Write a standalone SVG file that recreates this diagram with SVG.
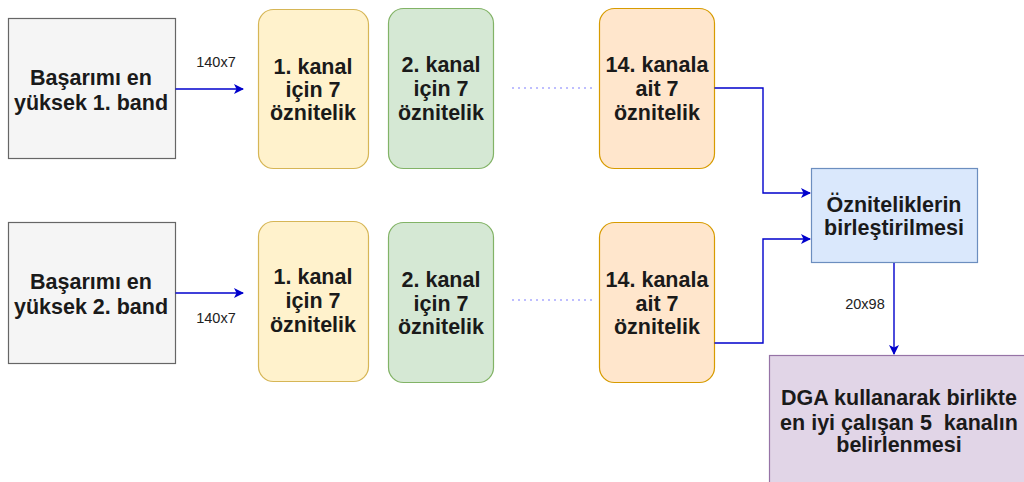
<svg xmlns="http://www.w3.org/2000/svg" width="1024" height="482" viewBox="0 0 1024 482">
<defs>
<style>
.t{font-family:"Liberation Sans",Arial,sans-serif;font-weight:bold;font-size:21.5px;fill:#1a1a1a;text-anchor:middle;white-space:pre}
.l{font-family:"Liberation Sans",Arial,sans-serif;font-size:14.5px;fill:#222;text-anchor:middle}
.gray{fill:#f5f5f5;stroke:#666666;stroke-width:1.2}
.yel{fill:#fff2cc;stroke:#d6b656;stroke-width:1.2}
.grn{fill:#d5e8d4;stroke:#82b366;stroke-width:1.2}
.org{fill:#ffe6cc;stroke:#d79b00;stroke-width:1.2}
.blu{fill:#dae8fc;stroke:#6c8ebf;stroke-width:1.2}
.pur{fill:#e1d5e7;stroke:#9673a6;stroke-width:1.2}
.c{fill:none;stroke:#0000cc;stroke-width:1.4}
.d{fill:none;stroke:#7f7fff;stroke-width:1.2;stroke-dasharray:2 4}
</style>
<marker id="ah" markerWidth="10" markerHeight="10" refX="9" refY="5" orient="auto" markerUnits="userSpaceOnUse">
<path d="M0,0 L10,5 L0,10 L2.5,5 Z" fill="#0000cc"/>
</marker>
</defs>
<rect width="1024" height="482" fill="#ffffff"/>

<g id="band1"><rect class="gray" x="8.5" y="18.5" width="167" height="140"/>
<text class="t" x="91" y="85">Başarımı en</text><text class="t" x="91" y="110">yüksek 1. band</text></g>
<g id="band2"><rect class="gray" x="8.5" y="222.5" width="167" height="141"/>
<text class="t" x="91" y="289">Başarımı en</text><text class="t" x="91" y="314">yüksek 2. band</text></g>

<g id="k1a"><rect class="yel" x="258.5" y="9.5" width="110" height="159" rx="15"/>
<text class="t" x="313" y="74">1. kanal</text><text class="t" x="313" y="97">için 7</text><text class="t" x="313" y="120">öznitelik</text></g>
<g id="k2a"><rect class="grn" x="388.5" y="8.5" width="105" height="160" rx="15"/>
<text class="t" x="441" y="72">2. kanal</text><text class="t" x="441" y="96">için 7</text><text class="t" x="441" y="120">öznitelik</text></g>
<g id="k14a"><rect class="org" x="599.5" y="8.5" width="115" height="160" rx="15"/>
<text class="t" x="657" y="72">14. kanala</text><text class="t" x="657" y="96">ait 7</text><text class="t" x="657" y="120">öznitelik</text></g>

<g id="k1b"><rect class="yel" x="258.5" y="221.5" width="110" height="160" rx="15"/>
<text class="t" x="313" y="284">1. kanal</text><text class="t" x="313" y="308">için 7</text><text class="t" x="313" y="332">öznitelik</text></g>
<g id="k2b"><rect class="grn" x="388.5" y="222.5" width="105" height="160" rx="15"/>
<text class="t" x="441" y="287">2. kanal</text><text class="t" x="441" y="311">için 7</text><text class="t" x="441" y="334">öznitelik</text></g>
<g id="k14b"><rect class="org" x="599.5" y="222.5" width="115" height="160" rx="15"/>
<text class="t" x="657" y="287">14. kanala</text><text class="t" x="657" y="311">ait 7</text><text class="t" x="657" y="334">öznitelik</text></g>

<g id="merge"><rect class="blu" x="811.5" y="168.5" width="166" height="94"/>
<text class="t" x="894" y="212">Özniteliklerin</text><text class="t" x="894" y="235">birleştirilmesi</text></g>

<g id="dga"><rect class="pur" x="769.5" y="355.5" width="262" height="140"/>
<text class="t" x="899" y="405">DGA kullanarak birlikte</text><text class="t" x="899" y="430" xml:space="preserve">en iyi çalışan 5  kanalın</text><text class="t" x="899" y="452">belirlenmesi</text></g>

<g id="connectors">
<line class="c" x1="175.5" y1="89" x2="243" y2="89" marker-end="url(#ah)"/>
<line class="c" x1="175.5" y1="293" x2="243" y2="293" marker-end="url(#ah)"/>
<line class="d" x1="512" y1="88" x2="593" y2="88"/>
<line class="d" x1="512" y1="300" x2="593" y2="300"/>
<polyline class="c" points="714.5,88 763,88 763,193 810,193" marker-end="url(#ah)"/>
<polyline class="c" points="714.5,343 763,343 763,239 810,239" marker-end="url(#ah)"/>
<line class="c" x1="894" y1="263" x2="894" y2="354" marker-end="url(#ah)"/>
<text class="l" x="216" y="67">140x7</text>
<text class="l" x="216" y="323">140x7</text>
<text class="l" x="865" y="309">20x98</text>
</g>
</svg>
